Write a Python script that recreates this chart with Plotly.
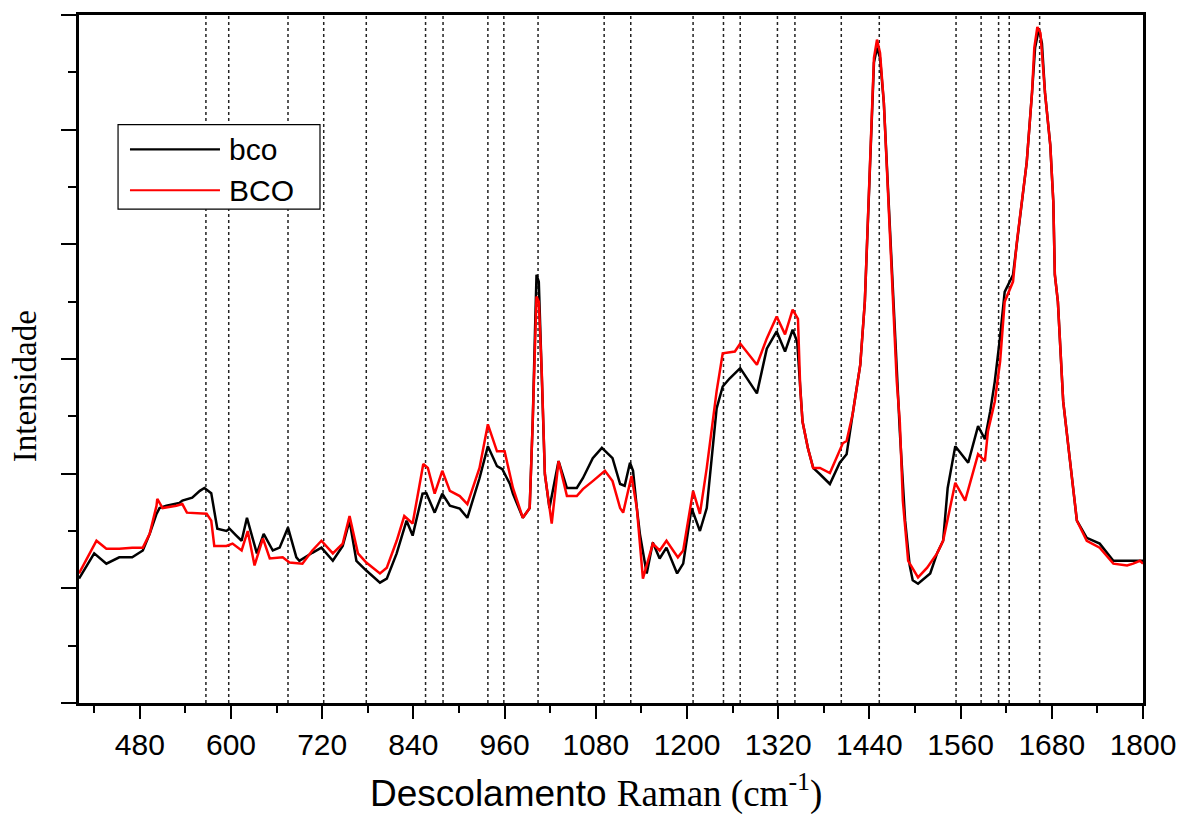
import plotly.graph_objects as go

# ---- data ----
series_names = ["bco", "BCO"]
series_colors = ["#000000", "#ff0000"]

bco_x = [400, 420, 436, 453, 470, 484, 493, 502, 506, 515, 532, 536, 549, 559, 565, 574, 578, 582, 594, 598,
         607, 614, 621, 634, 643, 655, 664, 675, 686, 690, 707, 719, 734, 747, 756, 765, 778, 796, 805, 818,
         831, 839, 852, 857, 868, 878, 888, 901, 911, 927, 938, 950, 957, 967, 971, 984, 993, 997, 1000, 1002,
         1005, 1009, 1013, 1019, 1031, 1042, 1055, 1063, 1076, 1088, 1102, 1112, 1118, 1125, 1129, 1134, 1138,
         1147, 1155, 1164, 1173, 1187, 1195, 1206, 1217, 1226, 1239, 1247, 1256, 1270, 1292, 1305, 1318, 1329,
         1339, 1345, 1349, 1352, 1359, 1366, 1375, 1388, 1401, 1410, 1418, 1428, 1434, 1441, 1446, 1450, 1454,
         1459, 1464, 1470, 1476, 1480, 1487, 1493, 1497, 1504, 1520, 1529, 1537, 1543, 1553, 1570, 1583, 1592,
         1599, 1605, 1612, 1618, 1629, 1634, 1641, 1647, 1654, 1658, 1663, 1667, 1671, 1678, 1682, 1684, 1688,
         1695, 1704, 1713, 1726, 1743, 1761, 1779, 1800]
bco_y = [217, 261, 243, 254, 254, 266, 295, 330, 340, 344, 349, 353, 358, 370, 375, 366, 335, 304, 300, 304,
         292, 283, 323, 261, 295, 266, 271, 306, 254, 248, 262, 271, 248, 274, 318, 248, 231, 210, 217, 261,
         318, 292, 365, 366, 332, 365, 344, 339, 323, 392, 448, 413, 408, 382, 365, 323, 340, 491, 648, 747,
         735, 573, 399, 340, 422, 375, 375, 392, 427, 445, 427, 382, 379, 419, 405, 340, 295,
         226, 280, 252, 271, 226, 243, 340, 300, 340, 514, 552, 566, 584, 540, 618, 648, 613,
         651, 630, 549, 491, 445, 410, 399, 382, 419, 434, 504, 590, 700, 960, 1117, 1143, 1125,
         1047, 908, 735, 561, 474, 318, 240, 214, 208, 226, 261, 283, 375, 448, 419, 483, 460,
         509, 561, 639, 717, 747, 804, 874, 943, 1065, 1143, 1176, 1151, 1065, 973, 874, 747, 700,
         526, 422, 318, 288, 278, 248, 248, 248]

BCO_x = [400, 423, 436, 453, 470, 484, 493, 502, 503, 510, 528, 536, 542, 568, 574, 578, 594, 602, 614, 622,
         631, 642, 651, 668, 677, 694, 707, 719, 734, 747, 756, 767, 778, 796, 805, 818, 828, 839, 853, 859,
         868, 878, 888, 901, 911, 927, 938, 950, 960, 971, 984, 993, 997, 1000, 1002, 1005, 1009, 1013, 1022,
         1031, 1042, 1055, 1063, 1076, 1092, 1102, 1112, 1116, 1127, 1134, 1142, 1155, 1164, 1173, 1188, 1195,
         1208, 1217, 1226, 1239, 1247, 1263, 1270, 1292, 1305, 1318, 1329, 1339, 1346, 1349, 1352, 1359, 1366,
         1375, 1388, 1405, 1410, 1418, 1428, 1434, 1441, 1446, 1450, 1454, 1459, 1464, 1470, 1476, 1480, 1484,
         1491, 1504, 1516, 1529, 1537, 1546, 1553, 1566, 1583, 1592, 1596, 1605, 1612, 1618, 1629, 1634, 1641,
         1647, 1654, 1657, 1661, 1665, 1671, 1678, 1682, 1684, 1688, 1695, 1704, 1713, 1726, 1743, 1761, 1779,
         1787, 1796, 1800]
BCO_y = [226, 283, 269, 269, 271, 271, 295, 344, 356, 340, 344, 347, 332, 330, 318, 274, 274, 278, 266, 300,
         240, 287, 252, 254, 245, 243, 266, 283, 261, 278, 326, 261, 245, 226, 236, 283, 326, 313, 417, 410,
         365, 405, 370, 361, 347, 410, 486, 439, 439, 375, 323, 340, 491, 648, 709, 700, 573, 399, 313,
         422, 361, 361, 373, 387, 405, 387, 340, 332, 396, 340, 217, 278, 266, 283, 254, 266,
         370, 330, 410, 544, 610, 613, 627, 590, 636, 674, 643, 686, 670, 549, 491, 445, 410,
         410, 401, 453, 457, 504, 590, 700, 960, 1125, 1157, 1134, 1047, 908, 735, 561, 491, 353,
         248, 219, 236, 261, 283, 340, 384, 353, 434, 422, 474, 526, 596, 700, 735, 804, 874,
         943, 1065, 1143, 1179, 1169, 1065, 973, 874, 747, 700, 526, 422, 318, 283, 271, 243, 240,
         243, 248, 243]

band_positions = [567, 597, 675, 722, 778, 856, 879, 938, 959, 1004, 1091, 1126, 1208, 1248, 1270,
                  1319, 1342, 1403, 1453, 1554, 1587, 1610, 1624, 1664]

x_range = [400, 1800]
y_range = [0, 1200]

SANS = "Liberation Sans, Arial, sans-serif"
SERIF = "Liberation Serif, Times New Roman, serif"

fig = go.Figure()

for xb in band_positions:
    fig.add_vline(x=xb, line=dict(color="#222222", width=1.5, dash="3px,3px"), layer="below")

for name, color, xs, ys in [(series_names[0], series_colors[0], bco_x, bco_y),
                            (series_names[1], series_colors[1], BCO_x, BCO_y)]:
    fig.add_trace(go.Scatter(x=xs, y=ys, mode="lines", name=name,
                             line=dict(color=color, width=2.5, shape="linear"),
                             showlegend=False))

# manual legend (box + line samples + labels)
lx0, lx1, ly0, ly1 = 0.0367, 0.2265, 0.7178, 0.8408
fig.add_shape(type="rect", xref="paper", yref="paper", x0=lx0, x1=lx1, y0=ly0, y1=ly1,
              line=dict(color="#000000", width=1.2), fillcolor="white", layer="above")
item_y = [0.8046, 0.7453]
for name, color, yy in zip(series_names, series_colors, item_y):
    fig.add_shape(type="line", xref="paper", yref="paper", x0=0.0479, x1=0.1325, y0=yy, y1=yy,
                  line=dict(color=color, width=2.2), layer="above")
    fig.add_annotation(xref="paper", yref="paper", x=0.1395, y=yy, text=name, showarrow=False,
                       xanchor="left", yanchor="middle", font=dict(family=SANS, size=30, color="black"))

# axis titles
fig.add_annotation(xref="paper", yref="paper", x=0.486, y=-0.128, showarrow=False,
                   xanchor="center", yanchor="middle",
                   text="Descolamento <span style='font-family:Liberation Serif'>Raman (cm<sup>-1</sup>)</span>",
                   font=dict(family=SANS, size=37, color="black"))
fig.add_annotation(xref="paper", yref="paper", x=-0.051, y=0.46, showarrow=False, textangle=-90,
                   xanchor="center", yanchor="middle", text="Intensidade",
                   font=dict(family=SERIF, size=33, color="black"))

fig.update_xaxes(range=x_range, tick0=0, dtick=120, ticks="outside", ticklen=13, tickwidth=2,
                 tickcolor="black", showline=True, linecolor="black", linewidth=2.5, mirror=True,
                 showgrid=False, zeroline=False,
                 tickfont=dict(family=SANS, size=30, color="black"),
                 minor=dict(dtick=60, tick0=0, ticks="outside", ticklen=7, tickwidth=2, tickcolor="black",
                            showgrid=False))
fig.update_yaxes(range=y_range, tick0=0, dtick=200, ticks="outside", ticklen=15, tickwidth=2,
                 tickcolor="black", showline=True, linecolor="black", linewidth=2.5, mirror=True,
                 showgrid=False, zeroline=False, showticklabels=False,
                 minor=dict(dtick=100, tick0=0, ticks="outside", ticklen=8, tickwidth=2, tickcolor="black",
                            showgrid=False))

fig.update_layout(width=1191, height=814, margin=dict(l=79, r=48, t=12, b=111),
                  paper_bgcolor="white", plot_bgcolor="white", showlegend=False)

fig.write_html("out.html")
